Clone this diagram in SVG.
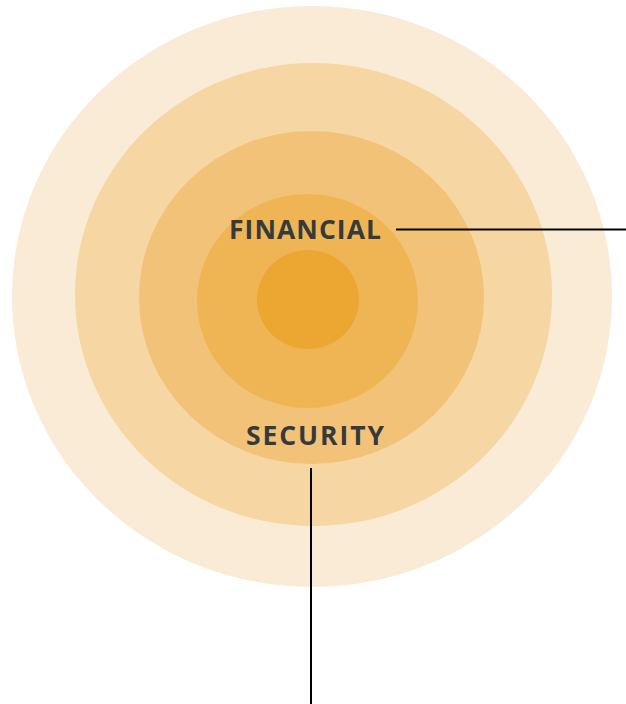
<svg xmlns="http://www.w3.org/2000/svg" width="626" height="704" viewBox="0 0 626 704">
<style>
.lbl{font-family:"Open Sans","Liberation Sans",sans-serif;font-weight:bold;font-size:26.5px;fill:#363a3c}
.conn{stroke:#000;stroke-width:2;fill:none}
</style>
<rect width="626" height="704" fill="#fff"/>
<g id="ring1"><ellipse cx="312" cy="296.5" rx="300" ry="290.5" fill="#FAEBD7"/></g>
<g id="ring2"><ellipse cx="313.5" cy="294.5" rx="238.5" ry="231.5" fill="#F6D6A3"/></g>
<g id="ring3"><ellipse cx="311.5" cy="297.5" rx="172.5" ry="166.5" fill="#F1C277"/></g>
<g id="ring4"><ellipse cx="307.5" cy="301" rx="110.5" ry="107" fill="#EFB555"/></g>
<g id="core"><ellipse cx="308" cy="299.5" rx="51" ry="49.5" fill="#ECA632"/></g>
<g id="connectors">
<line class="conn" x1="396" y1="229.5" x2="626" y2="229.5"/>
<line class="conn" x1="311" y1="468" x2="311" y2="704"/>
</g>
<g id="label-financial"><text class="lbl" x="229" y="239" textLength="152" lengthAdjust="spacing">FINANCIAL</text></g>
<g id="label-security"><text class="lbl" x="246" y="445" textLength="138" lengthAdjust="spacing">SECURITY</text></g>
</svg>
